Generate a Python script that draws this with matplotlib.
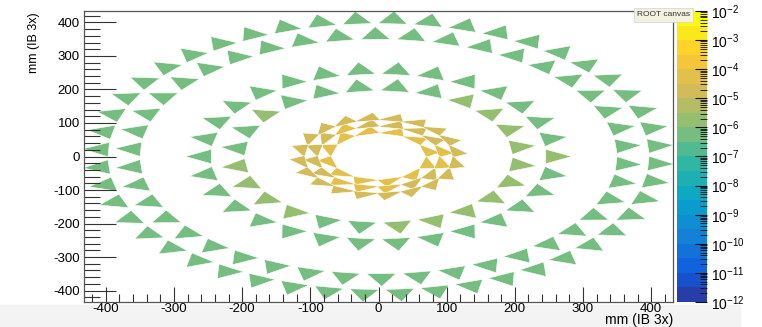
import numpy as np
import matplotlib
matplotlib.use('Agg')
import matplotlib.pyplot as plt
from matplotlib.collections import PolyCollection
from matplotlib.colors import LinearSegmentedColormap, ListedColormap, BoundaryNorm
from matplotlib.patches import Rectangle
from matplotlib.ticker import MultipleLocator, LogLocator, LogFormatterSciNotation, NullFormatter

plt.rcParams['font.family'] = ['Liberation Sans', 'DejaVu Sans']
plt.rcParams['mathtext.default'] = 'regular'
plt.rcParams['axes.unicode_minus'] = False

# layer geometry (stave count, centroid radius in mm, first stave angle in deg)
layer_staves = [12, 16, 20, 24, 30, 42, 48]
layer_radius = [75, 95, 115, 208, 258, 362, 409]
layer_phase = [15, 11.25, 9, 8, 0, 5, 4.5]
# triangle base (tangential), height (radial) and apex skew (fraction of base), mm
layer_base = [40, 40, 40, 43, 43, 43, 43]
layer_height = [24, 24, 24, 38, 38, 38, 38]
layer_skew = [-0.3, -0.3, -0.3, 0, 0, 0, 0]

# value per stave, layer by layer
vals_L0 = [6e-5, 6e-5, 6e-5, 6e-5, 6e-5, 6e-5, 6e-5, 6e-5, 6e-5, 6e-5, 6e-5, 6e-5]
vals_L1 = [6e-5, 2e-5, 2e-5, 2e-5, 2e-5, 6e-5, 2e-5, 2e-5,
           2e-5, 2e-5, 6e-5, 6e-5, 6e-5, 2e-5, 2e-5, 6e-5]
vals_L2 = [2e-5, 2e-5, 2e-5, 2e-5, 2e-5, 2e-5, 2e-5, 2e-5, 2e-5, 2e-5,
           2e-5, 2e-5, 2e-5, 2e-5, 2e-5, 2e-5, 2e-5, 2e-5, 2e-5, 2e-5]
vals_L3 = [2e-6, 2e-6, 2e-6, 2e-6, 5e-7, 5e-7, 5e-7, 5e-7, 5e-7, 2e-6, 5e-7, 5e-7,
           2e-6, 2e-6, 2e-6, 2e-6, 5e-7, 5e-7, 2e-6, 2e-6, 2e-6, 2e-6, 2e-6, 2e-6]
vals_L4 = [2e-6, 5e-7, 5e-7, 5e-7, 5e-7, 5e-7, 5e-7, 5e-7, 5e-7, 5e-7,
           5e-7, 5e-7, 5e-7, 5e-7, 5e-7, 5e-7, 5e-7, 5e-7, 5e-7, 5e-7,
           5e-7, 5e-7, 5e-7, 5e-7, 5e-7, 5e-7, 5e-7, 5e-7, 5e-7, 5e-7]
vals_L5 = [5e-7, 5e-7, 5e-7, 5e-7, 5e-7, 5e-7, 5e-7, 5e-7, 5e-7, 5e-7, 5e-7, 5e-7, 5e-7, 5e-7,
           5e-7, 5e-7, 5e-7, 5e-7, 5e-7, 5e-7, 5e-7, 5e-7, 5e-7, 5e-7, 5e-7, 5e-7, 5e-7, 5e-7,
           5e-7, 5e-7, 5e-7, 5e-7, 5e-7, 5e-7, 5e-7, 5e-7, 5e-7, 5e-7, 5e-7, 5e-7, 5e-7, 5e-7]
vals_L6 = [5e-7, 5e-7, 5e-7, 5e-7, 5e-7, 5e-7, 5e-7, 5e-7, 5e-7, 5e-7, 5e-7, 5e-7,
           5e-7, 5e-7, 5e-7, 5e-7, 5e-7, 5e-7, 5e-7, 5e-7, 5e-7, 5e-7, 5e-7, 5e-7,
           5e-7, 5e-7, 5e-7, 5e-7, 5e-7, 5e-7, 5e-7, 5e-7, 5e-7, 5e-7, 5e-7, 5e-7,
           5e-7, 5e-7, 5e-7, 5e-7, 5e-7, 5e-7, 5e-7, 5e-7, 5e-7, 5e-7, 5e-7, 5e-7]
layer_vals = [vals_L0, vals_L1, vals_L2, vals_L3, vals_L4, vals_L5, vals_L6]

# ROOT kBird palette, 20 contour levels from 1e-12 to 1e-2
bird_r = [0.2082, 0.0592, 0.0780, 0.0232, 0.1802, 0.5301, 0.8186, 0.9956, 0.9764]
bird_g = [0.1664, 0.3599, 0.5041, 0.6419, 0.7178, 0.7492, 0.7328, 0.7862, 0.9832]
bird_b = [0.5293, 0.8684, 0.8385, 0.7914, 0.6425, 0.4662, 0.3499, 0.1968, 0.0539]
bird = LinearSegmentedColormap.from_list('bird', list(zip(bird_r, bird_g, bird_b)))
n_levels = 20
log_levels = np.linspace(-12, -2, n_levels + 1)
band_cmap = ListedColormap(bird((np.arange(n_levels) + 1) / n_levels))
band_norm = BoundaryNorm(log_levels, n_levels)

# one triangle per stave, apex pointing outwards
verts, zvals = [], []
for n, r, ph, b, h, sk, vals in zip(layer_staves, layer_radius, layer_phase, layer_base,
                                    layer_height, layer_skew, layer_vals):
    for k in range(n):
        th = np.radians(ph + 360.0 * k / n)
        u = np.array([np.cos(th), np.sin(th)])      # radial
        t = np.array([-np.sin(th), np.cos(th)])     # tangential
        c = r * u
        apex = c + u * (2 * h / 3) + t * (sk * b)
        b1 = c - u * (h / 3) + t * (b / 2)
        b2 = c - u * (h / 3) - t * (b / 2)
        verts.append(np.array([apex, b1, b2]))
        zvals.append(np.log10(vals[k]))

fig = plt.figure(figsize=(7.62, 3.27), dpi=100)
W, H = 762.0, 327.0
fig.patches.append(Rectangle((0, 0), 740 / W, 22 / H, transform=fig.transFigure,
                             color='#f3f3f3', zorder=-5))

ax = fig.add_axes([84 / W, 1 - 302 / H, (673 - 84) / W, (302 - 11) / H])
pc = PolyCollection(verts, array=np.array(zvals), cmap=band_cmap, norm=band_norm,
                    edgecolors='white', linewidths=0.4)
ax.add_collection(pc)
ax.set_xlim(-432, 432)
ax.set_ylim(-434, 434)
ax.xaxis.set_major_locator(MultipleLocator(100))
ax.xaxis.set_minor_locator(MultipleLocator(20))
ax.yaxis.set_major_locator(MultipleLocator(100))
ax.yaxis.set_minor_locator(MultipleLocator(20))
ax.tick_params(axis='x', which='major', direction='in', length=11, width=0.8, color='#333333',
               labelsize=9.5, pad=1, top=False)
ax.tick_params(axis='x', which='minor', direction='in', length=5.5, width=0.8, color='#333333', top=False)
ax.tick_params(axis='y', which='major', direction='in', length=23, width=0.8, color='#333333',
               labelsize=9.5, pad=3, right=False)
ax.tick_params(axis='y', which='minor', direction='in', length=11.5, width=0.8, color='#333333', right=False)
for s in ax.spines.values():
    s.set_color('#555555')
    s.set_linewidth(0.9)

fig.text(34 / W, 1 - 12 / H, 'mm (IB 3x)', rotation=90, ha='center', va='top', fontsize=9)
fig.text(673 / W, 0, 'mm (IB 3x)', ha='right', va='bottom', fontsize=10)

# palette axis
cax = fig.add_axes([677 / W, 1 - 302 / H, 30 / W, (302 - 11) / H])
cax.pcolormesh([0, 1], 10 ** log_levels, (log_levels[:-1] + 0.25)[:, None],
               cmap=band_cmap, norm=band_norm)
cax.set_yscale('log')
cax.set_ylim(1e-12, 1e-2)
cax.set_xlim(0, 1)
cax.xaxis.set_visible(False)
cax.yaxis.tick_right()
cax.yaxis.set_major_locator(LogLocator(base=10, numticks=20))
cax.yaxis.set_major_formatter(LogFormatterSciNotation())
cax.yaxis.set_minor_locator(LogLocator(base=10, subs=np.arange(2, 10), numticks=20))
cax.yaxis.set_minor_formatter(NullFormatter())
cax.tick_params(axis='y', which='major', direction='in', length=9, width=0.8, color='#111111',
                labelsize=10, pad=3)
cax.tick_params(axis='y', which='minor', direction='in', length=5, width=0.6, color='#111111')
for s in cax.spines.values():
    s.set_visible(False)

fig.text(663.5 / W, 1 - 15 / H, 'ROOT canvas', fontsize=6, color='#333333', ha='center', va='center',
         bbox=dict(boxstyle='square,pad=0.4', fc='#f3f1e2', ec='#d6d4c6', lw=0.5), zorder=10)

fig.savefig('out.png', dpi=100)
